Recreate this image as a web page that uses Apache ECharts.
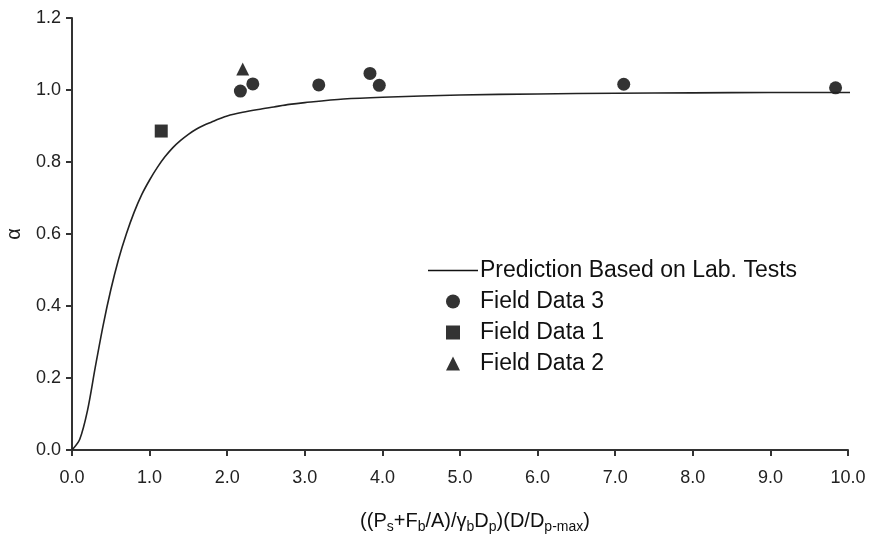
<!DOCTYPE html>
<html>
<head>
<meta charset="utf-8">
<script src="https://cdn.jsdelivr.net/npm/echarts@6/dist/echarts.min.js"></script>
<style>
    html, body { margin: 0; padding: 0; background: #fff; }
    #chart { width: 870px; height: 540px; }
</style>
</head>
<body>
<div id="chart"></div>
<script>
    // prediction curve (lab tests)
    var predX = [0, 0.1, 0.2, 0.3, 0.4, 0.5, 0.6, 0.7, 0.8, 0.9, 1.0, 1.1, 1.2, 1.3, 1.4, 1.5, 1.6, 1.7, 1.8, 1.9, 2.0, 2.2, 2.4, 2.6, 2.8, 3.0, 3.5, 4.0, 5.0, 6.0, 7.0, 8.0, 9.0, 10.1];
    var predY = [0, 0.03, 0.11, 0.23, 0.345, 0.445, 0.53, 0.60, 0.66, 0.71, 0.75, 0.785, 0.815, 0.84, 0.86, 0.877, 0.891, 0.902, 0.911, 0.92, 0.928, 0.938, 0.946, 0.953, 0.96, 0.965, 0.975, 0.98, 0.986, 0.989, 0.991, 0.992, 0.993, 0.993];

    // field data
    var field3X = [2.17, 2.33, 3.18, 3.84, 3.96, 7.11, 9.84];
    var field3Y = [0.997, 1.017, 1.014, 1.046, 1.013, 1.016, 1.006];
    var field1X = [1.15];
    var field1Y = [0.886];
    var field2X = [2.20];
    var field2Y = [1.058];

    var xTicks = { min: 0, max: 10, interval: 1 };
    var yTicks = { min: 0, max: 1.2, interval: 0.2 };

    function pairs(xs, ys) {
        return xs.map(function(x, i) {
            return [x, ys[i]];
        });
    }

    var myChart = echarts.init(document.getElementById('chart'));
    var axisColor = '#333';
    var font = 'Liberation Sans, Arial, sans-serif';

    var option = {
        animation: false,
        backgroundColor: '#fff',
        grid: {
            left: 72,
            right: 22,
            top: 18,
            bottom: 90,
            outerBoundsMode: 'none'
        },
        legend: {
            orient: 'vertical',
            left: 423,
            top: 254,
            itemWidth: 50,
            itemHeight: 14,
            itemGap: 8,
            textStyle: {
                fontFamily: font,
                fontSize: 23,
                color: '#111',
                padding: [0, 0, 0, -3]
            },
            data: [
                { name: 'Prediction Based on Lab. Tests', icon: 'path://M0,0L50,0L50,1.5L0,1.5Z', itemStyle: { color: '#111' } },
                { name: 'Field Data 3', icon: 'circle' },
                { name: 'Field Data 1', icon: 'path://M0,0L10,0L10,10L0,10Z' },
                { name: 'Field Data 2', icon: 'path://M5,0L10,10L0,10Z' }
            ]
        },
        xAxis: {
            type: 'value',
            min: xTicks.min,
            max: xTicks.max,
            interval: xTicks.interval,
            name: '{n|((P}{s|s}{n|+F}{s|b}{n|/A)/γ}{s|b}{n|D}{s|p}{n|)(D/D}{s|p-max}{n|)}',
            nameLocation: 'middle',
            nameGap: 58,
            nameTextStyle: {
                padding: [0, 0, 0, 30],
                rich: {
                    n: { fontFamily: font, fontSize: 20, color: '#111' },
                    s: { fontFamily: font, fontSize: 14, color: '#111', padding: [12, 0, 0, 0] }
                }
            },
            axisLine: { lineStyle: { color: axisColor, width: 2 } },
            axisTick: { length: 6, lineStyle: { color: axisColor, width: 2 } },
            axisLabel: {
                margin: 19,
                fontFamily: font,
                fontSize: 18,
                color: '#222',
                formatter: function(v) { return v.toFixed(1); }
            },
            splitLine: { show: false }
        },
        yAxis: {
            type: 'value',
            min: yTicks.min,
            max: yTicks.max,
            interval: yTicks.interval,
            name: 'α',
            nameLocation: 'middle',
            nameGap: 48,
            nameTextStyle: { fontFamily: font, fontSize: 20, color: '#222' },
            axisLine: { lineStyle: { color: axisColor, width: 2 } },
            axisTick: { length: 6, lineStyle: { color: axisColor, width: 2 } },
            axisLabel: {
                margin: 11,
                fontFamily: font,
                fontSize: 18,
                color: '#222',
                formatter: function(v) { return v.toFixed(1); }
            },
            splitLine: { show: false }
        },
        series: [{
            name: 'Prediction Based on Lab. Tests',
            type: 'line',
            data: pairs(predX, predY),
            smooth: 0.3,
            showSymbol: false,
            clip: false,
            lineStyle: { color: '#222', width: 1.6 },
            itemStyle: { color: '#222' }
        }, {
            name: 'Field Data 3',
            type: 'scatter',
            data: pairs(field3X, field3Y),
            symbol: 'circle',
            symbolSize: 13,
            itemStyle: { color: '#000' }
        }, {
            name: 'Field Data 1',
            type: 'scatter',
            data: pairs(field1X, field1Y),
            symbol: 'rect',
            symbolSize: 13,
            itemStyle: { color: '#000' }
        }, {
            name: 'Field Data 2',
            type: 'scatter',
            data: pairs(field2X, field2Y),
            symbol: 'triangle',
            symbolSize: 13,
            itemStyle: { color: '#000' }
        }]
    };
    myChart.setOption(option);
</script>
</body>
</html>
